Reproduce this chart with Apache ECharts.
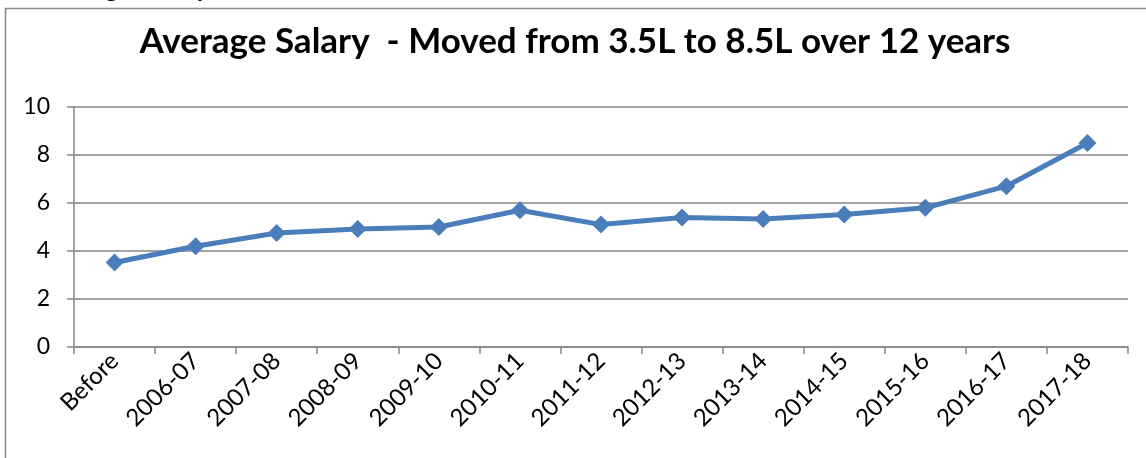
<!DOCTYPE html>
<html><head><meta charset="utf-8">
<script src="https://cdn.jsdelivr.net/npm/echarts@6/dist/echarts.min.js"></script>
<style>html,body{margin:0;padding:0;background:#fff}#c{width:1146px;height:458px}</style>
</head><body><div id="c"></div>
<script>
const categories = ['Before','2006-07','2007-08','2008-09','2009-10','2010-11','2011-12','2012-13','2013-14','2014-15','2015-16','2016-17','2017-18'];
const salary = [3.52, 4.2, 4.75, 4.92, 5.0, 5.7, 5.1, 5.4, 5.33, 5.52, 5.8, 6.7, 8.5];
const yTicks = [0, 2, 4, 6, 8, 10];
const titleText = 'Average Salary  - Moved from 3.5L to 8.5L over 12 years';
const FONT = 'Lato, "Open Sans", sans-serif';
const chart = echarts.init(document.getElementById('c'));
chart.setOption({
  animation: false,
  backgroundColor: '#fff',
  title: {
    text: titleText, left: 570, top: 19, textAlign: 'center',
    textStyle: {fontFamily: FONT, fontWeight: 'bold', fontSize: 35, color: '#000'}
  },
  graphic: [
    {type: 'rect', shape: {x: 5.5, y: 8.5, width: 1160, height: 470}, style: {fill: 'none', stroke: '#8a8a8a', lineWidth: 1.5}, z: -1},
    {type: 'text', left: 38, top: -24, style: {text: 'Average Salary', font: 'bold 26px ' + FONT, fill: '#000'}}
  ],
  grid: {left: 74, right: 18, top: 107, bottom: 111, containLabel: false},
  xAxis: {
    type: 'category', data: categories, boundaryGap: true,
    axisLine: {lineStyle: {color: '#868686', width: 1.5}},
    axisTick: {show: true, length: 7, alignWithLabel: false, lineStyle: {color: '#868686', width: 1.5}},
    axisLabel: {rotate: 45, interval: 0, fontFamily: FONT, fontSize: 24, color: '#000', margin: 10}
  },
  yAxis: {
    type: 'value', min: 0, max: 10, interval: 2,
    axisLine: {show: true, lineStyle: {color: '#868686', width: 1.5}},
    axisTick: {show: true, length: 7, lineStyle: {color: '#868686', width: 1.5}},
    splitLine: {lineStyle: {color: '#868686', width: 1.5}},
    axisLabel: {fontFamily: FONT, fontSize: 23, color: '#000', margin: 24,
      formatter: v => yTicks.includes(v) ? String(v) : ''}
  },
  series: [{
    type: 'line', data: salary,
    symbol: 'diamond', symbolSize: 18,
    lineStyle: {color: '#4a7ebb', width: 5},
    itemStyle: {color: '#4a7ebb'}
  }]
});
</script></body></html>
